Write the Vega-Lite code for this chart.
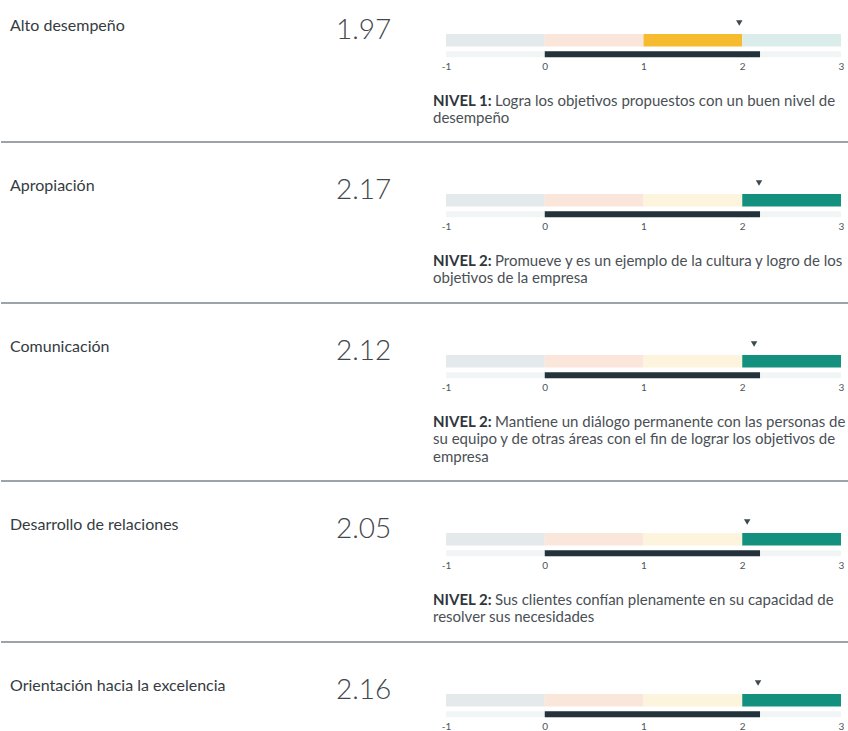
{
  "$schema": "https://vega.github.io/schema/vega-lite/v6.json",
  "padding": 0,
  "background": "white",
  "bounds": "flush",
  "spacing": 0,
  "config": {"view": {"stroke": null}, "font": "Lato"},
  "datasets": {
    "competencias": [
      {"orden": 1, "competencia": "Alto desempeño", "puntaje": 1.97, "esperado": 2.18},
      {"orden": 2, "competencia": "Apropiación", "puntaje": 2.17, "esperado": 2.18},
      {"orden": 3, "competencia": "Comunicación", "puntaje": 2.12, "esperado": 2.18},
      {"orden": 4, "competencia": "Desarrollo de relaciones", "puntaje": 2.05, "esperado": 2.18},
      {"orden": 5, "competencia": "Orientación hacia la excelencia", "puntaje": 2.16, "esperado": 2.18}
    ],
    "tramos": [
      {"orden": 1, "desde": -1, "hasta": 0, "clase": "Bajo"},
      {"orden": 1, "desde": 0, "hasta": 1, "clase": "Básico"},
      {"orden": 1, "desde": 1, "hasta": 2, "clase": "Nivel 1 (logrado)"},
      {"orden": 1, "desde": 2, "hasta": 3, "clase": "Nivel 2"},
      {"orden": 2, "desde": -1, "hasta": 0, "clase": "Bajo"},
      {"orden": 2, "desde": 0, "hasta": 1, "clase": "Básico"},
      {"orden": 2, "desde": 1, "hasta": 2, "clase": "Nivel 1"},
      {"orden": 2, "desde": 2, "hasta": 3, "clase": "Nivel 2 (logrado)"},
      {"orden": 3, "desde": -1, "hasta": 0, "clase": "Bajo"},
      {"orden": 3, "desde": 0, "hasta": 1, "clase": "Básico"},
      {"orden": 3, "desde": 1, "hasta": 2, "clase": "Nivel 1"},
      {"orden": 3, "desde": 2, "hasta": 3, "clase": "Nivel 2 (logrado)"},
      {"orden": 4, "desde": -1, "hasta": 0, "clase": "Bajo"},
      {"orden": 4, "desde": 0, "hasta": 1, "clase": "Básico"},
      {"orden": 4, "desde": 1, "hasta": 2, "clase": "Nivel 1"},
      {"orden": 4, "desde": 2, "hasta": 3, "clase": "Nivel 2 (logrado)"},
      {"orden": 5, "desde": -1, "hasta": 0, "clase": "Bajo"},
      {"orden": 5, "desde": 0, "hasta": 1, "clase": "Básico"},
      {"orden": 5, "desde": 1, "hasta": 2, "clase": "Nivel 1"},
      {"orden": 5, "desde": 2, "hasta": 3, "clase": "Nivel 2 (logrado)"}
    ],
    "lineas": [
      {"orden": 1, "linea": 1, "prefijo": "NIVEL 1:", "texto": "Logra los objetivos propuestos con un buen nivel de"},
      {"orden": 1, "linea": 2, "texto": "desempeño"},
      {"orden": 2, "linea": 1, "prefijo": "NIVEL 2:", "texto": "Promueve y es un ejemplo de la cultura y logro de los"},
      {"orden": 2, "linea": 2, "texto": "objetivos de la empresa"},
      {"orden": 3, "linea": 1, "prefijo": "NIVEL 2:", "texto": "Mantiene un diálogo permanente con las personas de"},
      {"orden": 3, "linea": 2, "texto": "su equipo y de otras áreas con el fin de lograr los objetivos de"},
      {"orden": 3, "linea": 3, "texto": "empresa"},
      {"orden": 4, "linea": 1, "prefijo": "NIVEL 2:", "texto": "Sus clientes confían plenamente en su capacidad de"},
      {"orden": 4, "linea": 2, "texto": "resolver sus necesidades"}
    ],
    "separador": [{"separador": 1}]
  },
  "vconcat": [
    {
      "width": 848, "height": 141,
      "resolve": {"scale": {"x": "independent", "y": "independent"}},
      "layer": [
        {"data": {"name": "tramos"}, "transform": [{"filter": {"field": "orden", "equal": 1}}],
         "mark": {"type": "bar", "height": {"band": 0.9}},
         "encoding": {
           "x": {"field": "desde", "type": "quantitative", "scale": {"domain": [-1, 3], "range": [445, 840], "nice": false, "zero": false},
                 "axis": {"values": [-1, 0, 1, 2, 3], "labelExpr": "'' + datum.value", "title": null, "domain": false, "ticks": false, "tickSize": 0, "grid": false, "labelPadding": 0, "labelFontSize": 10, "labelFont": "Lato", "labelColor": "#4e545a", "offset": -79.75, "labelFlush": false, "labelOverlap": false}},
           "x2": {"field": "hasta"},
           "y": {"datum": "rango", "type": "nominal", "scale": {"type": "band", "domain": ["marcador", "rango", "actual"], "paddingInner": 0, "paddingOuter": 0, "range": [19.25, 61.25]}, "axis": null},
           "color": {"field": "clase", "type": "nominal", "scale": {"domain": ["Bajo", "Básico", "Nivel 1", "Nivel 2", "Nivel 1 (logrado)", "Nivel 2 (logrado)"], "range": ["#e4eaec", "#fbe6dc", "#fdf4dd", "#dbedea", "#f6bb2e", "#13917e"]}, "legend": null}
         }},
        {"data": {"name": "tramos"}, "transform": [{"filter": {"field": "orden", "equal": 1}}],
         "mark": {"type": "bar", "height": {"band": 0.42}, "color": "#f2f5f6"},
         "encoding": {
           "x": {"field": "desde", "type": "quantitative", "scale": {"domain": [-1, 3], "range": [445, 840], "nice": false, "zero": false}, "axis": null},
           "x2": {"field": "hasta"},
           "y": {"datum": "actual", "type": "nominal", "scale": {"type": "band", "domain": ["marcador", "rango", "actual"], "paddingInner": 0, "paddingOuter": 0, "range": [19.25, 61.25]}, "axis": null}
         }},
        {"data": {"name": "competencias"}, "transform": [{"filter": {"field": "orden", "equal": 1}}],
         "mark": {"type": "bar", "height": {"band": 0.42}, "color": "#24323b"},
         "encoding": {
           "x": {"field": "esperado", "type": "quantitative", "scale": {"domain": [-1, 3], "range": [445, 840], "nice": false, "zero": false}, "axis": null},
           "y": {"datum": "actual", "type": "nominal", "scale": {"type": "band", "domain": ["marcador", "rango", "actual"], "paddingInner": 0, "paddingOuter": 0, "range": [19.25, 61.25]}, "axis": null}
         }},
        {"data": {"name": "competencias"}, "transform": [{"filter": {"field": "orden", "equal": 1}}],
         "mark": {"type": "point", "shape": "triangle-down", "filled": true, "size": 42, "color": "#3f4950", "opacity": 1},
         "encoding": {
           "x": {"field": "puntaje", "type": "quantitative", "scale": {"domain": [-1, 3], "range": [445, 840], "nice": false, "zero": false}, "axis": null},
           "y": {"datum": "marcador", "type": "nominal", "bandPosition": 0.27, "scale": {"type": "band", "domain": ["marcador", "rango", "actual"], "paddingInner": 0, "paddingOuter": 0, "range": [19.25, 61.25]}, "axis": null}
         }},
        {"data": {"name": "competencias"}, "transform": [{"filter": {"field": "orden", "equal": 1}}],
         "mark": {"type": "text", "align": "left", "baseline": "alphabetic", "font": "Lato", "fontSize": 16, "color": "#353b41"},
         "encoding": {
           "x": {"datum": "Competencia", "type": "nominal", "scale": {"type": "point", "domain": ["Competencia", "Puntaje"], "padding": 0.80061, "align": 0.017241}, "axis": null},
           "y": {"datum": "marcador", "type": "nominal", "bandPosition": 0.85, "scale": {"type": "band", "domain": ["marcador", "rango", "actual"], "paddingInner": 0, "paddingOuter": 0, "range": [19.25, 61.25]}, "axis": null},
           "text": {"field": "competencia"}
         }},
        {"data": {"name": "competencias"}, "transform": [{"filter": {"field": "orden", "equal": 1}}],
         "mark": {"type": "text", "align": "left", "baseline": "alphabetic", "font": "Lato", "fontSize": 28, "fontWeight": 300, "color": "#41474c"},
         "encoding": {
           "x": {"datum": "Puntaje", "type": "nominal", "scale": {"type": "point", "domain": ["Competencia", "Puntaje"], "padding": 0.80061, "align": 0.017241}, "axis": null},
           "y": {"datum": "rango", "type": "nominal", "bandPosition": 0.4, "scale": {"type": "band", "domain": ["marcador", "rango", "actual"], "paddingInner": 0, "paddingOuter": 0, "range": [19.25, 61.25]}, "axis": null},
           "text": {"field": "puntaje", "format": ".2f"}
         }},
        {"data": {"name": "lineas"}, "transform": [{"filter": {"field": "orden", "equal": 1}}, {"filter": {"field": "linea", "equal": 1}}],
         "mark": {"type": "text", "align": "left", "baseline": "middle", "dx": -13, "font": "Lato", "fontSize": 15, "fontWeight": "bold", "color": "#2f363b"},
         "encoding": {
           "x": {"datum": -1, "type": "quantitative", "scale": {"domain": [-1, 3], "range": [445, 840], "nice": false, "zero": false}, "axis": null},
           "y": {"field": "linea", "type": "ordinal", "scale": {"type": "point", "domain": [1, 2, 3], "padding": 0, "range": [100.5, 136]}, "axis": null},
           "text": {"field": "prefijo"}
         }},
        {"data": {"name": "lineas"}, "transform": [{"filter": {"field": "orden", "equal": 1}}, {"filter": {"field": "linea", "equal": 1}}],
         "mark": {"type": "text", "align": "left", "baseline": "middle", "dx": 49, "font": "Lato", "fontSize": 15, "color": "#4a5055"},
         "encoding": {
           "x": {"datum": -1, "type": "quantitative", "scale": {"domain": [-1, 3], "range": [445, 840], "nice": false, "zero": false}, "axis": null},
           "y": {"field": "linea", "type": "ordinal", "scale": {"type": "point", "domain": [1, 2, 3], "padding": 0, "range": [100.5, 136]}, "axis": null},
           "text": {"field": "texto"}
         }},
        {"data": {"name": "lineas"}, "transform": [{"filter": {"field": "orden", "equal": 1}}, {"filter": {"field": "linea", "gt": 1}}],
         "mark": {"type": "text", "align": "left", "baseline": "middle", "dx": -13, "font": "Lato", "fontSize": 15, "color": "#4a5055"},
         "encoding": {
           "x": {"datum": -1, "type": "quantitative", "scale": {"domain": [-1, 3], "range": [445, 840], "nice": false, "zero": false}, "axis": null},
           "y": {"field": "linea", "type": "ordinal", "scale": {"type": "point", "domain": [1, 2, 3], "padding": 0, "range": [100.5, 136]}, "axis": null},
           "text": {"field": "texto"}
         }}
      ]
    },
    {"width": 848, "height": 1, "data": {"name": "separador"}, "mark": {"type": "rule", "color": "#7d8489", "strokeWidth": 1.6},
     "encoding": {"y": {"datum": 0, "type": "quantitative", "scale": {"domain": [0, 1]}, "axis": null}}},
    {
      "width": 848, "height": 160,
      "resolve": {"scale": {"x": "independent", "y": "independent"}},
      "layer": [
        {"data": {"name": "tramos"}, "transform": [{"filter": {"field": "orden", "equal": 2}}],
         "mark": {"type": "bar", "height": {"band": 0.9}},
         "encoding": {
           "x": {"field": "desde", "type": "quantitative", "scale": {"domain": [-1, 3], "range": [445, 840], "nice": false, "zero": false},
                 "axis": {"values": [-1, 0, 1, 2, 3], "labelExpr": "'' + datum.value", "title": null, "domain": false, "ticks": false, "tickSize": 0, "grid": false, "labelPadding": 0, "labelFontSize": 10, "labelFont": "Lato", "labelColor": "#4e545a", "offset": -80.75, "labelFlush": false, "labelOverlap": false}},
           "x2": {"field": "hasta"},
           "y": {"datum": "rango", "type": "nominal", "scale": {"type": "band", "domain": ["marcador", "rango", "actual"], "paddingInner": 0, "paddingOuter": 0, "range": [37.25, 79.25]}, "axis": null},
           "color": {"field": "clase", "type": "nominal", "scale": {"domain": ["Bajo", "Básico", "Nivel 1", "Nivel 2", "Nivel 1 (logrado)", "Nivel 2 (logrado)"], "range": ["#e4eaec", "#fbe6dc", "#fdf4dd", "#dbedea", "#f6bb2e", "#13917e"]}, "legend": null}
         }},
        {"data": {"name": "tramos"}, "transform": [{"filter": {"field": "orden", "equal": 2}}],
         "mark": {"type": "bar", "height": {"band": 0.42}, "color": "#f2f5f6"},
         "encoding": {
           "x": {"field": "desde", "type": "quantitative", "scale": {"domain": [-1, 3], "range": [445, 840], "nice": false, "zero": false}, "axis": null},
           "x2": {"field": "hasta"},
           "y": {"datum": "actual", "type": "nominal", "scale": {"type": "band", "domain": ["marcador", "rango", "actual"], "paddingInner": 0, "paddingOuter": 0, "range": [37.25, 79.25]}, "axis": null}
         }},
        {"data": {"name": "competencias"}, "transform": [{"filter": {"field": "orden", "equal": 2}}],
         "mark": {"type": "bar", "height": {"band": 0.42}, "color": "#24323b"},
         "encoding": {
           "x": {"field": "esperado", "type": "quantitative", "scale": {"domain": [-1, 3], "range": [445, 840], "nice": false, "zero": false}, "axis": null},
           "y": {"datum": "actual", "type": "nominal", "scale": {"type": "band", "domain": ["marcador", "rango", "actual"], "paddingInner": 0, "paddingOuter": 0, "range": [37.25, 79.25]}, "axis": null}
         }},
        {"data": {"name": "competencias"}, "transform": [{"filter": {"field": "orden", "equal": 2}}],
         "mark": {"type": "point", "shape": "triangle-down", "filled": true, "size": 42, "color": "#3f4950", "opacity": 1},
         "encoding": {
           "x": {"field": "puntaje", "type": "quantitative", "scale": {"domain": [-1, 3], "range": [445, 840], "nice": false, "zero": false}, "axis": null},
           "y": {"datum": "marcador", "type": "nominal", "bandPosition": 0.27, "scale": {"type": "band", "domain": ["marcador", "rango", "actual"], "paddingInner": 0, "paddingOuter": 0, "range": [37.25, 79.25]}, "axis": null}
         }},
        {"data": {"name": "competencias"}, "transform": [{"filter": {"field": "orden", "equal": 2}}],
         "mark": {"type": "text", "align": "left", "baseline": "alphabetic", "font": "Lato", "fontSize": 16, "color": "#353b41"},
         "encoding": {
           "x": {"datum": "Competencia", "type": "nominal", "scale": {"type": "point", "domain": ["Competencia", "Puntaje"], "padding": 0.80061, "align": 0.017241}, "axis": null},
           "y": {"datum": "marcador", "type": "nominal", "bandPosition": 0.85, "scale": {"type": "band", "domain": ["marcador", "rango", "actual"], "paddingInner": 0, "paddingOuter": 0, "range": [37.25, 79.25]}, "axis": null},
           "text": {"field": "competencia"}
         }},
        {"data": {"name": "competencias"}, "transform": [{"filter": {"field": "orden", "equal": 2}}],
         "mark": {"type": "text", "align": "left", "baseline": "alphabetic", "font": "Lato", "fontSize": 28, "fontWeight": 300, "color": "#41474c"},
         "encoding": {
           "x": {"datum": "Puntaje", "type": "nominal", "scale": {"type": "point", "domain": ["Competencia", "Puntaje"], "padding": 0.80061, "align": 0.017241}, "axis": null},
           "y": {"datum": "rango", "type": "nominal", "bandPosition": 0.4, "scale": {"type": "band", "domain": ["marcador", "rango", "actual"], "paddingInner": 0, "paddingOuter": 0, "range": [37.25, 79.25]}, "axis": null},
           "text": {"field": "puntaje", "format": ".2f"}
         }},
        {"data": {"name": "lineas"}, "transform": [{"filter": {"field": "orden", "equal": 2}}, {"filter": {"field": "linea", "equal": 1}}],
         "mark": {"type": "text", "align": "left", "baseline": "middle", "dx": -13, "font": "Lato", "fontSize": 15, "fontWeight": "bold", "color": "#2f363b"},
         "encoding": {
           "x": {"datum": -1, "type": "quantitative", "scale": {"domain": [-1, 3], "range": [445, 840], "nice": false, "zero": false}, "axis": null},
           "y": {"field": "linea", "type": "ordinal", "scale": {"type": "point", "domain": [1, 2, 3], "padding": 0, "range": [118.5, 154]}, "axis": null},
           "text": {"field": "prefijo"}
         }},
        {"data": {"name": "lineas"}, "transform": [{"filter": {"field": "orden", "equal": 2}}, {"filter": {"field": "linea", "equal": 1}}],
         "mark": {"type": "text", "align": "left", "baseline": "middle", "dx": 49, "font": "Lato", "fontSize": 15, "color": "#4a5055"},
         "encoding": {
           "x": {"datum": -1, "type": "quantitative", "scale": {"domain": [-1, 3], "range": [445, 840], "nice": false, "zero": false}, "axis": null},
           "y": {"field": "linea", "type": "ordinal", "scale": {"type": "point", "domain": [1, 2, 3], "padding": 0, "range": [118.5, 154]}, "axis": null},
           "text": {"field": "texto"}
         }},
        {"data": {"name": "lineas"}, "transform": [{"filter": {"field": "orden", "equal": 2}}, {"filter": {"field": "linea", "gt": 1}}],
         "mark": {"type": "text", "align": "left", "baseline": "middle", "dx": -13, "font": "Lato", "fontSize": 15, "color": "#4a5055"},
         "encoding": {
           "x": {"datum": -1, "type": "quantitative", "scale": {"domain": [-1, 3], "range": [445, 840], "nice": false, "zero": false}, "axis": null},
           "y": {"field": "linea", "type": "ordinal", "scale": {"type": "point", "domain": [1, 2, 3], "padding": 0, "range": [118.5, 154]}, "axis": null},
           "text": {"field": "texto"}
         }}
      ]
    },
    {"width": 848, "height": 1, "data": {"name": "separador"}, "mark": {"type": "rule", "color": "#7d8489", "strokeWidth": 1.6},
     "encoding": {"y": {"datum": 0, "type": "quantitative", "scale": {"domain": [0, 1]}, "axis": null}}},
    {
      "width": 848, "height": 177,
      "resolve": {"scale": {"x": "independent", "y": "independent"}},
      "layer": [
        {"data": {"name": "tramos"}, "transform": [{"filter": {"field": "orden", "equal": 3}}],
         "mark": {"type": "bar", "height": {"band": 0.9}},
         "encoding": {
           "x": {"field": "desde", "type": "quantitative", "scale": {"domain": [-1, 3], "range": [445, 840], "nice": false, "zero": false},
                 "axis": {"values": [-1, 0, 1, 2, 3], "labelExpr": "'' + datum.value", "title": null, "domain": false, "ticks": false, "tickSize": 0, "grid": false, "labelPadding": 0, "labelFontSize": 10, "labelFont": "Lato", "labelColor": "#4e545a", "offset": -97.75, "labelFlush": false, "labelOverlap": false}},
           "x2": {"field": "hasta"},
           "y": {"datum": "rango", "type": "nominal", "scale": {"type": "band", "domain": ["marcador", "rango", "actual"], "paddingInner": 0, "paddingOuter": 0, "range": [37.25, 79.25]}, "axis": null},
           "color": {"field": "clase", "type": "nominal", "scale": {"domain": ["Bajo", "Básico", "Nivel 1", "Nivel 2", "Nivel 1 (logrado)", "Nivel 2 (logrado)"], "range": ["#e4eaec", "#fbe6dc", "#fdf4dd", "#dbedea", "#f6bb2e", "#13917e"]}, "legend": null}
         }},
        {"data": {"name": "tramos"}, "transform": [{"filter": {"field": "orden", "equal": 3}}],
         "mark": {"type": "bar", "height": {"band": 0.42}, "color": "#f2f5f6"},
         "encoding": {
           "x": {"field": "desde", "type": "quantitative", "scale": {"domain": [-1, 3], "range": [445, 840], "nice": false, "zero": false}, "axis": null},
           "x2": {"field": "hasta"},
           "y": {"datum": "actual", "type": "nominal", "scale": {"type": "band", "domain": ["marcador", "rango", "actual"], "paddingInner": 0, "paddingOuter": 0, "range": [37.25, 79.25]}, "axis": null}
         }},
        {"data": {"name": "competencias"}, "transform": [{"filter": {"field": "orden", "equal": 3}}],
         "mark": {"type": "bar", "height": {"band": 0.42}, "color": "#24323b"},
         "encoding": {
           "x": {"field": "esperado", "type": "quantitative", "scale": {"domain": [-1, 3], "range": [445, 840], "nice": false, "zero": false}, "axis": null},
           "y": {"datum": "actual", "type": "nominal", "scale": {"type": "band", "domain": ["marcador", "rango", "actual"], "paddingInner": 0, "paddingOuter": 0, "range": [37.25, 79.25]}, "axis": null}
         }},
        {"data": {"name": "competencias"}, "transform": [{"filter": {"field": "orden", "equal": 3}}],
         "mark": {"type": "point", "shape": "triangle-down", "filled": true, "size": 42, "color": "#3f4950", "opacity": 1},
         "encoding": {
           "x": {"field": "puntaje", "type": "quantitative", "scale": {"domain": [-1, 3], "range": [445, 840], "nice": false, "zero": false}, "axis": null},
           "y": {"datum": "marcador", "type": "nominal", "bandPosition": 0.27, "scale": {"type": "band", "domain": ["marcador", "rango", "actual"], "paddingInner": 0, "paddingOuter": 0, "range": [37.25, 79.25]}, "axis": null}
         }},
        {"data": {"name": "competencias"}, "transform": [{"filter": {"field": "orden", "equal": 3}}],
         "mark": {"type": "text", "align": "left", "baseline": "alphabetic", "font": "Lato", "fontSize": 16, "color": "#353b41"},
         "encoding": {
           "x": {"datum": "Competencia", "type": "nominal", "scale": {"type": "point", "domain": ["Competencia", "Puntaje"], "padding": 0.80061, "align": 0.017241}, "axis": null},
           "y": {"datum": "marcador", "type": "nominal", "bandPosition": 0.85, "scale": {"type": "band", "domain": ["marcador", "rango", "actual"], "paddingInner": 0, "paddingOuter": 0, "range": [37.25, 79.25]}, "axis": null},
           "text": {"field": "competencia"}
         }},
        {"data": {"name": "competencias"}, "transform": [{"filter": {"field": "orden", "equal": 3}}],
         "mark": {"type": "text", "align": "left", "baseline": "alphabetic", "font": "Lato", "fontSize": 28, "fontWeight": 300, "color": "#41474c"},
         "encoding": {
           "x": {"datum": "Puntaje", "type": "nominal", "scale": {"type": "point", "domain": ["Competencia", "Puntaje"], "padding": 0.80061, "align": 0.017241}, "axis": null},
           "y": {"datum": "rango", "type": "nominal", "bandPosition": 0.4, "scale": {"type": "band", "domain": ["marcador", "rango", "actual"], "paddingInner": 0, "paddingOuter": 0, "range": [37.25, 79.25]}, "axis": null},
           "text": {"field": "puntaje", "format": ".2f"}
         }},
        {"data": {"name": "lineas"}, "transform": [{"filter": {"field": "orden", "equal": 3}}, {"filter": {"field": "linea", "equal": 1}}],
         "mark": {"type": "text", "align": "left", "baseline": "middle", "dx": -13, "font": "Lato", "fontSize": 15, "fontWeight": "bold", "color": "#2f363b"},
         "encoding": {
           "x": {"datum": -1, "type": "quantitative", "scale": {"domain": [-1, 3], "range": [445, 840], "nice": false, "zero": false}, "axis": null},
           "y": {"field": "linea", "type": "ordinal", "scale": {"type": "point", "domain": [1, 2, 3], "padding": 0, "range": [118.5, 154]}, "axis": null},
           "text": {"field": "prefijo"}
         }},
        {"data": {"name": "lineas"}, "transform": [{"filter": {"field": "orden", "equal": 3}}, {"filter": {"field": "linea", "equal": 1}}],
         "mark": {"type": "text", "align": "left", "baseline": "middle", "dx": 49, "font": "Lato", "fontSize": 15, "color": "#4a5055"},
         "encoding": {
           "x": {"datum": -1, "type": "quantitative", "scale": {"domain": [-1, 3], "range": [445, 840], "nice": false, "zero": false}, "axis": null},
           "y": {"field": "linea", "type": "ordinal", "scale": {"type": "point", "domain": [1, 2, 3], "padding": 0, "range": [118.5, 154]}, "axis": null},
           "text": {"field": "texto"}
         }},
        {"data": {"name": "lineas"}, "transform": [{"filter": {"field": "orden", "equal": 3}}, {"filter": {"field": "linea", "gt": 1}}],
         "mark": {"type": "text", "align": "left", "baseline": "middle", "dx": -13, "font": "Lato", "fontSize": 15, "color": "#4a5055"},
         "encoding": {
           "x": {"datum": -1, "type": "quantitative", "scale": {"domain": [-1, 3], "range": [445, 840], "nice": false, "zero": false}, "axis": null},
           "y": {"field": "linea", "type": "ordinal", "scale": {"type": "point", "domain": [1, 2, 3], "padding": 0, "range": [118.5, 154]}, "axis": null},
           "text": {"field": "texto"}
         }}
      ]
    },
    {"width": 848, "height": 1, "data": {"name": "separador"}, "mark": {"type": "rule", "color": "#7d8489", "strokeWidth": 1.6},
     "encoding": {"y": {"datum": 0, "type": "quantitative", "scale": {"domain": [0, 1]}, "axis": null}}},
    {
      "width": 848, "height": 160,
      "resolve": {"scale": {"x": "independent", "y": "independent"}},
      "layer": [
        {"data": {"name": "tramos"}, "transform": [{"filter": {"field": "orden", "equal": 4}}],
         "mark": {"type": "bar", "height": {"band": 0.9}},
         "encoding": {
           "x": {"field": "desde", "type": "quantitative", "scale": {"domain": [-1, 3], "range": [445, 840], "nice": false, "zero": false},
                 "axis": {"values": [-1, 0, 1, 2, 3], "labelExpr": "'' + datum.value", "title": null, "domain": false, "ticks": false, "tickSize": 0, "grid": false, "labelPadding": 0, "labelFontSize": 10, "labelFont": "Lato", "labelColor": "#4e545a", "offset": -80.75, "labelFlush": false, "labelOverlap": false}},
           "x2": {"field": "hasta"},
           "y": {"datum": "rango", "type": "nominal", "scale": {"type": "band", "domain": ["marcador", "rango", "actual"], "paddingInner": 0, "paddingOuter": 0, "range": [37.25, 79.25]}, "axis": null},
           "color": {"field": "clase", "type": "nominal", "scale": {"domain": ["Bajo", "Básico", "Nivel 1", "Nivel 2", "Nivel 1 (logrado)", "Nivel 2 (logrado)"], "range": ["#e4eaec", "#fbe6dc", "#fdf4dd", "#dbedea", "#f6bb2e", "#13917e"]}, "legend": null}
         }},
        {"data": {"name": "tramos"}, "transform": [{"filter": {"field": "orden", "equal": 4}}],
         "mark": {"type": "bar", "height": {"band": 0.42}, "color": "#f2f5f6"},
         "encoding": {
           "x": {"field": "desde", "type": "quantitative", "scale": {"domain": [-1, 3], "range": [445, 840], "nice": false, "zero": false}, "axis": null},
           "x2": {"field": "hasta"},
           "y": {"datum": "actual", "type": "nominal", "scale": {"type": "band", "domain": ["marcador", "rango", "actual"], "paddingInner": 0, "paddingOuter": 0, "range": [37.25, 79.25]}, "axis": null}
         }},
        {"data": {"name": "competencias"}, "transform": [{"filter": {"field": "orden", "equal": 4}}],
         "mark": {"type": "bar", "height": {"band": 0.42}, "color": "#24323b"},
         "encoding": {
           "x": {"field": "esperado", "type": "quantitative", "scale": {"domain": [-1, 3], "range": [445, 840], "nice": false, "zero": false}, "axis": null},
           "y": {"datum": "actual", "type": "nominal", "scale": {"type": "band", "domain": ["marcador", "rango", "actual"], "paddingInner": 0, "paddingOuter": 0, "range": [37.25, 79.25]}, "axis": null}
         }},
        {"data": {"name": "competencias"}, "transform": [{"filter": {"field": "orden", "equal": 4}}],
         "mark": {"type": "point", "shape": "triangle-down", "filled": true, "size": 42, "color": "#3f4950", "opacity": 1},
         "encoding": {
           "x": {"field": "puntaje", "type": "quantitative", "scale": {"domain": [-1, 3], "range": [445, 840], "nice": false, "zero": false}, "axis": null},
           "y": {"datum": "marcador", "type": "nominal", "bandPosition": 0.27, "scale": {"type": "band", "domain": ["marcador", "rango", "actual"], "paddingInner": 0, "paddingOuter": 0, "range": [37.25, 79.25]}, "axis": null}
         }},
        {"data": {"name": "competencias"}, "transform": [{"filter": {"field": "orden", "equal": 4}}],
         "mark": {"type": "text", "align": "left", "baseline": "alphabetic", "font": "Lato", "fontSize": 16, "color": "#353b41"},
         "encoding": {
           "x": {"datum": "Competencia", "type": "nominal", "scale": {"type": "point", "domain": ["Competencia", "Puntaje"], "padding": 0.80061, "align": 0.017241}, "axis": null},
           "y": {"datum": "marcador", "type": "nominal", "bandPosition": 0.85, "scale": {"type": "band", "domain": ["marcador", "rango", "actual"], "paddingInner": 0, "paddingOuter": 0, "range": [37.25, 79.25]}, "axis": null},
           "text": {"field": "competencia"}
         }},
        {"data": {"name": "competencias"}, "transform": [{"filter": {"field": "orden", "equal": 4}}],
         "mark": {"type": "text", "align": "left", "baseline": "alphabetic", "font": "Lato", "fontSize": 28, "fontWeight": 300, "color": "#41474c"},
         "encoding": {
           "x": {"datum": "Puntaje", "type": "nominal", "scale": {"type": "point", "domain": ["Competencia", "Puntaje"], "padding": 0.80061, "align": 0.017241}, "axis": null},
           "y": {"datum": "rango", "type": "nominal", "bandPosition": 0.4, "scale": {"type": "band", "domain": ["marcador", "rango", "actual"], "paddingInner": 0, "paddingOuter": 0, "range": [37.25, 79.25]}, "axis": null},
           "text": {"field": "puntaje", "format": ".2f"}
         }},
        {"data": {"name": "lineas"}, "transform": [{"filter": {"field": "orden", "equal": 4}}, {"filter": {"field": "linea", "equal": 1}}],
         "mark": {"type": "text", "align": "left", "baseline": "middle", "dx": -13, "font": "Lato", "fontSize": 15, "fontWeight": "bold", "color": "#2f363b"},
         "encoding": {
           "x": {"datum": -1, "type": "quantitative", "scale": {"domain": [-1, 3], "range": [445, 840], "nice": false, "zero": false}, "axis": null},
           "y": {"field": "linea", "type": "ordinal", "scale": {"type": "point", "domain": [1, 2, 3], "padding": 0, "range": [118.5, 154]}, "axis": null},
           "text": {"field": "prefijo"}
         }},
        {"data": {"name": "lineas"}, "transform": [{"filter": {"field": "orden", "equal": 4}}, {"filter": {"field": "linea", "equal": 1}}],
         "mark": {"type": "text", "align": "left", "baseline": "middle", "dx": 49, "font": "Lato", "fontSize": 15, "color": "#4a5055"},
         "encoding": {
           "x": {"datum": -1, "type": "quantitative", "scale": {"domain": [-1, 3], "range": [445, 840], "nice": false, "zero": false}, "axis": null},
           "y": {"field": "linea", "type": "ordinal", "scale": {"type": "point", "domain": [1, 2, 3], "padding": 0, "range": [118.5, 154]}, "axis": null},
           "text": {"field": "texto"}
         }},
        {"data": {"name": "lineas"}, "transform": [{"filter": {"field": "orden", "equal": 4}}, {"filter": {"field": "linea", "gt": 1}}],
         "mark": {"type": "text", "align": "left", "baseline": "middle", "dx": -13, "font": "Lato", "fontSize": 15, "color": "#4a5055"},
         "encoding": {
           "x": {"datum": -1, "type": "quantitative", "scale": {"domain": [-1, 3], "range": [445, 840], "nice": false, "zero": false}, "axis": null},
           "y": {"field": "linea", "type": "ordinal", "scale": {"type": "point", "domain": [1, 2, 3], "padding": 0, "range": [118.5, 154]}, "axis": null},
           "text": {"field": "texto"}
         }}
      ]
    },
    {"width": 848, "height": 1, "data": {"name": "separador"}, "mark": {"type": "rule", "color": "#7d8489", "strokeWidth": 1.6},
     "encoding": {"y": {"datum": 0, "type": "quantitative", "scale": {"domain": [0, 1]}, "axis": null}}},
    {
      "width": 848, "height": 88,
      "resolve": {"scale": {"x": "independent", "y": "independent"}},
      "layer": [
        {"data": {"name": "tramos"}, "transform": [{"filter": {"field": "orden", "equal": 5}}],
         "mark": {"type": "bar", "height": {"band": 0.9}},
         "encoding": {
           "x": {"field": "desde", "type": "quantitative", "scale": {"domain": [-1, 3], "range": [445, 840], "nice": false, "zero": false},
                 "axis": {"values": [-1, 0, 1, 2, 3], "labelExpr": "'' + datum.value", "title": null, "domain": false, "ticks": false, "tickSize": 0, "grid": false, "labelPadding": 0, "labelFontSize": 10, "labelFont": "Lato", "labelColor": "#4e545a", "offset": -8.75, "labelFlush": false, "labelOverlap": false}},
           "x2": {"field": "hasta"},
           "y": {"datum": "rango", "type": "nominal", "scale": {"type": "band", "domain": ["marcador", "rango", "actual"], "paddingInner": 0, "paddingOuter": 0, "range": [37.25, 79.25]}, "axis": null},
           "color": {"field": "clase", "type": "nominal", "scale": {"domain": ["Bajo", "Básico", "Nivel 1", "Nivel 2", "Nivel 1 (logrado)", "Nivel 2 (logrado)"], "range": ["#e4eaec", "#fbe6dc", "#fdf4dd", "#dbedea", "#f6bb2e", "#13917e"]}, "legend": null}
         }},
        {"data": {"name": "tramos"}, "transform": [{"filter": {"field": "orden", "equal": 5}}],
         "mark": {"type": "bar", "height": {"band": 0.42}, "color": "#f2f5f6"},
         "encoding": {
           "x": {"field": "desde", "type": "quantitative", "scale": {"domain": [-1, 3], "range": [445, 840], "nice": false, "zero": false}, "axis": null},
           "x2": {"field": "hasta"},
           "y": {"datum": "actual", "type": "nominal", "scale": {"type": "band", "domain": ["marcador", "rango", "actual"], "paddingInner": 0, "paddingOuter": 0, "range": [37.25, 79.25]}, "axis": null}
         }},
        {"data": {"name": "competencias"}, "transform": [{"filter": {"field": "orden", "equal": 5}}],
         "mark": {"type": "bar", "height": {"band": 0.42}, "color": "#24323b"},
         "encoding": {
           "x": {"field": "esperado", "type": "quantitative", "scale": {"domain": [-1, 3], "range": [445, 840], "nice": false, "zero": false}, "axis": null},
           "y": {"datum": "actual", "type": "nominal", "scale": {"type": "band", "domain": ["marcador", "rango", "actual"], "paddingInner": 0, "paddingOuter": 0, "range": [37.25, 79.25]}, "axis": null}
         }},
        {"data": {"name": "competencias"}, "transform": [{"filter": {"field": "orden", "equal": 5}}],
         "mark": {"type": "point", "shape": "triangle-down", "filled": true, "size": 42, "color": "#3f4950", "opacity": 1},
         "encoding": {
           "x": {"field": "puntaje", "type": "quantitative", "scale": {"domain": [-1, 3], "range": [445, 840], "nice": false, "zero": false}, "axis": null},
           "y": {"datum": "marcador", "type": "nominal", "bandPosition": 0.27, "scale": {"type": "band", "domain": ["marcador", "rango", "actual"], "paddingInner": 0, "paddingOuter": 0, "range": [37.25, 79.25]}, "axis": null}
         }},
        {"data": {"name": "competencias"}, "transform": [{"filter": {"field": "orden", "equal": 5}}],
         "mark": {"type": "text", "align": "left", "baseline": "alphabetic", "font": "Lato", "fontSize": 16, "color": "#353b41"},
         "encoding": {
           "x": {"datum": "Competencia", "type": "nominal", "scale": {"type": "point", "domain": ["Competencia", "Puntaje"], "padding": 0.80061, "align": 0.017241}, "axis": null},
           "y": {"datum": "marcador", "type": "nominal", "bandPosition": 0.85, "scale": {"type": "band", "domain": ["marcador", "rango", "actual"], "paddingInner": 0, "paddingOuter": 0, "range": [37.25, 79.25]}, "axis": null},
           "text": {"field": "competencia"}
         }},
        {"data": {"name": "competencias"}, "transform": [{"filter": {"field": "orden", "equal": 5}}],
         "mark": {"type": "text", "align": "left", "baseline": "alphabetic", "font": "Lato", "fontSize": 28, "fontWeight": 300, "color": "#41474c"},
         "encoding": {
           "x": {"datum": "Puntaje", "type": "nominal", "scale": {"type": "point", "domain": ["Competencia", "Puntaje"], "padding": 0.80061, "align": 0.017241}, "axis": null},
           "y": {"datum": "rango", "type": "nominal", "bandPosition": 0.4, "scale": {"type": "band", "domain": ["marcador", "rango", "actual"], "paddingInner": 0, "paddingOuter": 0, "range": [37.25, 79.25]}, "axis": null},
           "text": {"field": "puntaje", "format": ".2f"}
         }}
      ]
    }
  ]
}
